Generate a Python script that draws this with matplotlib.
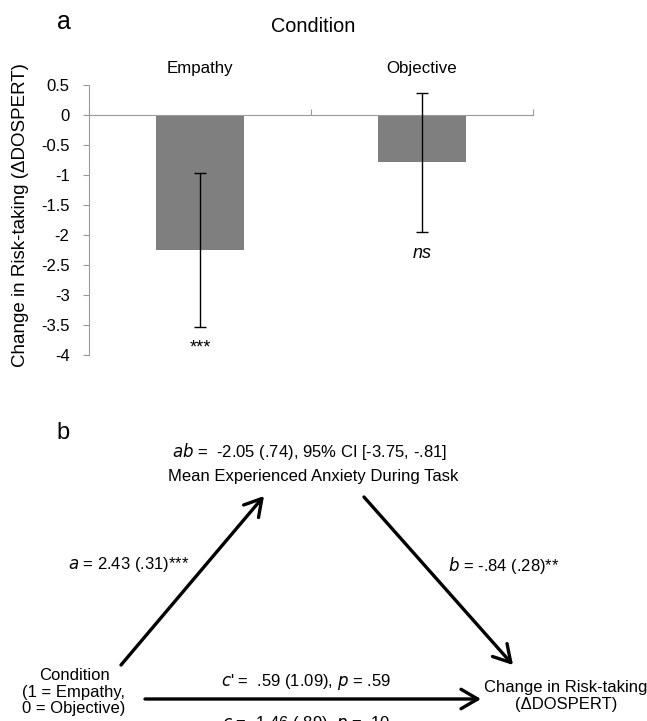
import matplotlib
matplotlib.use("Agg")
import matplotlib.pyplot as plt

plt.rcParams["font.family"] = ["Liberation Sans", "DejaVu Sans"]

# ── data ──────────────────────────────────────
conditions = ["Empathy", "Objective"]
change_means = [-2.25, -0.79]
change_err = [1.29, 1.16]
sig_labels = ["***", "ns"]
y_ticks = [0.5, 0, -0.5, -1, -1.5, -2, -2.5, -3, -3.5, -4]

mediator = "Mean Experienced Anxiety During Task"
indirect = r"$\it{ab}$ =  -2.05 (.74), 95% CI [-3.75, -.81]"
path_a = r"$\it{a}$ = 2.43 (.31)***"
path_b = r"$\it{b}$ = -.84 (.28)**"
path_c_prime = r"$\it{c}$' =  .59 (1.09), $\it{p}$ = .59"
path_c = r"$\it{c}$ = -1.46 (.89), $\it{p}$ = .10"
predictor = "Condition\n(1 = Empathy,\n0 = Objective)"
outcome = "Change in Risk-taking\n(ΔDOSPERT)"

W, H = 647, 721
fig = plt.figure(figsize=(W / 100, H / 100), dpi=100)


def px(x, y):
    """pixel coords (top-left origin) -> figure fraction"""
    return x / W, 1 - y / H


# ── panel a ───────────────────────────────────
ax = fig.add_axes([89 / W, 1 - 355 / H, (533 - 89) / W, (355 - 85) / H])
xs = range(len(conditions))
ax.bar(xs, change_means, width=0.4, color="#7f7f7f", zorder=2)
ax.errorbar(xs, change_means, yerr=change_err, fmt="none", ecolor="black",
            elinewidth=1, capsize=4, capthick=1, zorder=3)
ax.set_xlim(-0.5, len(conditions) - 0.5)
ax.set_ylim(-4, 0.5)
ax.set_yticks(y_ticks)
ax.set_yticklabels([f"{v:g}" for v in y_ticks], fontsize=12)
ax.set_xticks([-0.5, 0.5, 1.5])
ax.set_xticklabels([])
ax.spines["top"].set_visible(False)
ax.spines["right"].set_visible(False)
ax.spines["bottom"].set_position(("data", 0))
for s in ("left", "bottom"):
    ax.spines[s].set_color("#9a9a9a")
ax.tick_params(axis="y", direction="out", length=4, color="#9a9a9a", pad=10)
ax.tick_params(axis="x", direction="in", length=4, color="#9a9a9a")
ax.set_ylabel("Change in Risk-taking (ΔDOSPERT)", fontsize=13.5)
ax.yaxis.set_label_coords(-0.135, 0.52)

for i, (name, m, e, s) in enumerate(zip(conditions, change_means, change_err, sig_labels)):
    ax.text(i, 0.78, name, ha="center", va="center", fontsize=12.2)
    ax.text(i, m - e - 0.35, s, ha="center", va="center", fontsize=13,
            style="italic" if s == "ns" else "normal")

fig.text(*px(64, 22), "a", fontsize=18, ha="center", va="center")
fig.text(*px(313, 27), "Condition", fontsize=14.3, ha="center", va="center")

# ── panel b (path diagram) ────────────────────
fs = 12
fig.text(*px(63, 433), "b", fontsize=17, ha="center", va="center")
fig.text(*px(310, 451), indirect, fontsize=fs, ha="center", va="center")
fig.text(*px(313, 476), mediator, fontsize=fs, ha="center", va="center")
fig.text(*px(129, 565), path_a, fontsize=fs, ha="center", va="center")
fig.text(*px(504, 565), path_b, fontsize=fs, ha="center", va="center")
fig.text(*px(74, 692), predictor, fontsize=fs, ha="center", va="center",
         linespacing=1.15)
fig.text(*px(566, 696), outcome, fontsize=fs, ha="center", va="center",
         linespacing=1.2)
fig.text(*px(306, 682), path_c_prime, fontsize=fs, ha="center", va="center")
fig.text(*px(306, 724), path_c, fontsize=fs, ha="center", va="center")

arrows = [((121, 665), (264, 496)), ((364, 497), (513, 665)), ((145, 699), (481, 699))]
for (x0, y0), (x1, y1) in arrows:
    fig.add_artist(matplotlib.patches.FancyArrowPatch(
        px(x0, y0), px(x1, y1), transform=fig.transFigure,
        arrowstyle="->,head_length=0.6,head_width=0.35", lw=2.4,
        color="black", mutation_scale=20, shrinkA=0, shrinkB=0))

fig.savefig("out.png", dpi=100)
